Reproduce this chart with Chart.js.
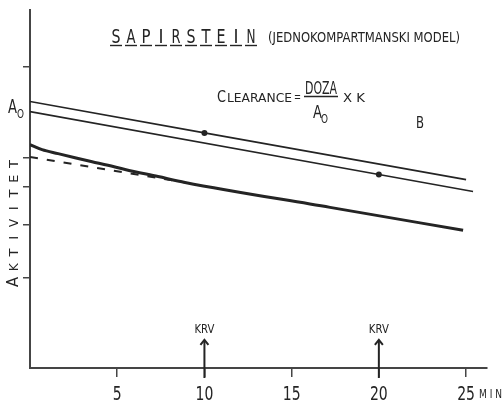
<!DOCTYPE html>
<html>
<head>
<meta charset="utf-8">
<script src="https://cdn.jsdelivr.net/npm/chart.js@4.4.1/dist/chart.umd.min.js"></script>
<style>
  html, body { margin: 0; padding: 0; background: #fff; }
</style>
</head>
<body>
<canvas id="grafico" width="502" height="401"></canvas>
<script>
// tiempo en minutos, actividad en escala logarítmica (unidades relativas)
const tiempoA = [0, 10, 25];
const actividadA = [7.69, 6.05, 4.23];
const tiempoB = [0, 20, 25.4];
const actividadB = [7.12, 4.40, 3.86];
const tiempoCurva = [0, 0.69, 1.61, 2.58, 3.56, 4.47, 5.45, 7.34, 8.89, 17.2, 24.83];
const actividadCurva = [5.53, 5.32, 5.16, 5.0, 4.85, 4.72, 4.57, 4.33, 4.14, 3.42, 2.87];
const tiempoExtrapolado = [0, 8.89];
const actividadExtrapolada = [5.03, 4.14];
const muestrasKrv = [10, 20];
const ticksTiempo = [5, 10, 15, 20, 25];
const ticksActividad = [2, 3, 4, 5, 10];
const nivelA0 = 7.45;
const flechaTope = 1.24;

const tinta = "#242424";
const eje = "#454545";

function puntos(xs, ys) {
  return xs.map((x, i) => ({ x: x, y: ys[i] }));
}

// texto estrecho, estilo rotulado a mano
function rotulo(ctx, texto, x, y, size, ancho, align, escala) {
  ctx.save();
  ctx.font = size + 'px "DejaVu Sans"';
  const w = ctx.measureText(texto).width;
  const k = ancho ? ancho / w : (escala || 0.75);
  ctx.translate(x, y);
  ctx.scale(k, 1);
  ctx.textAlign = align || "left";
  ctx.fillText(texto, 0, 0);
  ctx.restore();
}

const fondo = {
  id: "fondo",
  beforeDraw(chart) {
    const ctx = chart.ctx;
    ctx.save();
    ctx.fillStyle = "#fff";
    ctx.fillRect(0, 0, chart.width, chart.height);
    ctx.restore();
  }
};

const rotulos = {
  id: "rotulos",
  afterDraw(chart) {
    const ctx = chart.ctx;
    const x = chart.scales.x;
    const y = chart.scales.y;
    ctx.save();
    ctx.fillStyle = tinta;
    ctx.strokeStyle = tinta;
    ctx.textBaseline = "alphabetic";

    // numeros del eje de tiempo
    x.ticks.forEach((t) => {
      rotulo(ctx, String(t.value), x.getPixelForValue(t.value), 400, 20, null, "center", 0.7);
    });

    // flechas de muestras de sangre
    muestrasKrv.forEach((t) => {
      const px = x.getPixelForValue(t);
      const base = y.getPixelForValue(1);
      const tope = y.getPixelForValue(flechaTope);
      ctx.lineWidth = 2;
      ctx.beginPath();
      ctx.moveTo(px, base + 10);
      ctx.lineTo(px, tope);
      ctx.stroke();
      ctx.beginPath();
      ctx.moveTo(px - 4, tope + 5);
      ctx.lineTo(px, tope);
      ctx.lineTo(px + 4, tope + 5);
      ctx.stroke();
      rotulo(ctx, "KRV", px, tope - 7, 13, 20, "center");
    });

    // titulo
    const letras = "SAPIRSTEIN".split("");
    ctx.lineWidth = 1.4;
    letras.forEach((l, i) => {
      const cx = 116 + i * 15;
      rotulo(ctx, l, cx, 43, 20, l === "I" ? 5 : 9, "center");
      ctx.beginPath();
      ctx.moveTo(cx - 6, 45.5);
      ctx.lineTo(cx + 6, 45.5);
      ctx.stroke();
    });
    rotulo(ctx, "(JEDNOKOMPARTMANSKI MODEL)", 268, 42, 13.5, 192);

    // formula
    rotulo(ctx, "C", 217, 102, 16, 9);
    rotulo(ctx, "LEARANCE", 227, 102, 12, 65);
    rotulo(ctx, "=", 294, 101, 13, 7);
    rotulo(ctx, "DOZA", 305, 94, 17, 32);
    ctx.lineWidth = 1.3;
    ctx.beginPath();
    ctx.moveTo(304, 96.5);
    ctx.lineTo(338, 96.5);
    ctx.stroke();
    rotulo(ctx, "A", 313, 118, 18, 9);
    rotulo(ctx, "O", 321, 123, 12, 7);
    rotulo(ctx, "X K", 343, 102, 12, 22);
    rotulo(ctx, "B", 416, 128, 15, 8);

    // A0 junto al eje
    const pa = y.getPixelForValue(nivelA0);
    rotulo(ctx, "A", 8, pa + 7, 20, 9);
    rotulo(ctx, "O", 17, pa + 12, 13, 7);

    // titulo del eje vertical
    ctx.save();
    ctx.translate(18, 0);
    ctx.rotate(-Math.PI / 2);
    "AKTIVITET".split("").forEach((l, i) => {
      const cy = 282 - i * 14.75;
      if (i === 0) rotulo(ctx, l, -cy, 0, 15, 10, "center");
      else rotulo(ctx, l, -cy, 0, 12.5, l === "I" ? 4 : 8, "center");
    });
    ctx.restore();

    rotulo(ctx, "M I N", 479, 398, 12, 23);
    ctx.restore();
  }
};

new Chart(document.getElementById("grafico"), {
  type: "line",
  data: {
    datasets: [
      {
        data: puntos(tiempoA, actividadA),
        borderColor: tinta,
        borderWidth: 1.6,
        pointRadius: [0, 3, 0],
        pointBackgroundColor: tinta,
        pointBorderWidth: 0
      },
      {
        data: puntos(tiempoB, actividadB),
        borderColor: tinta,
        borderWidth: 1.6,
        pointRadius: [0, 3, 0],
        pointBackgroundColor: tinta,
        pointBorderWidth: 0
      },
      {
        data: puntos(tiempoCurva, actividadCurva),
        borderColor: tinta,
        borderWidth: 3,
        cubicInterpolationMode: "monotone",
        pointRadius: 0
      },
      {
        data: puntos(tiempoExtrapolado, actividadExtrapolada),
        borderColor: tinta,
        borderWidth: 2,
        borderDash: [8, 9],
        pointRadius: 0
      }
    ]
  },
  options: {
    responsive: false,
    animation: false,
    layout: { padding: { top: 10, right: 15, left: 0, bottom: 0 } },
    plugins: { legend: { display: false }, tooltip: { enabled: false } },
    scales: {
      x: {
        type: "linear",
        min: 0,
        max: 26.2,
        afterFit: (s) => { s.height = 33; },
        afterBuildTicks: (s) => { s.ticks = ticksTiempo.map((v) => ({ value: v })); },
        grid: { drawOnChartArea: false, tickLength: 9, color: eje, lineWidth: 1.5 },
        border: { color: eje, width: 2 },
        ticks: { display: false }
      },
      y: {
        type: "logarithmic",
        min: 1,
        max: 15.5,
        afterFit: (s) => { s.width = 30; },
        afterBuildTicks: (s) => { s.ticks = ticksActividad.map((v) => ({ value: v })); },
        grid: { drawOnChartArea: false, tickLength: 7, color: eje, lineWidth: 1.5 },
        border: { color: eje, width: 2 },
        ticks: { display: false }
      }
    }
  },
  plugins: [fondo, rotulos]
});
</script>
</body>
</html>
